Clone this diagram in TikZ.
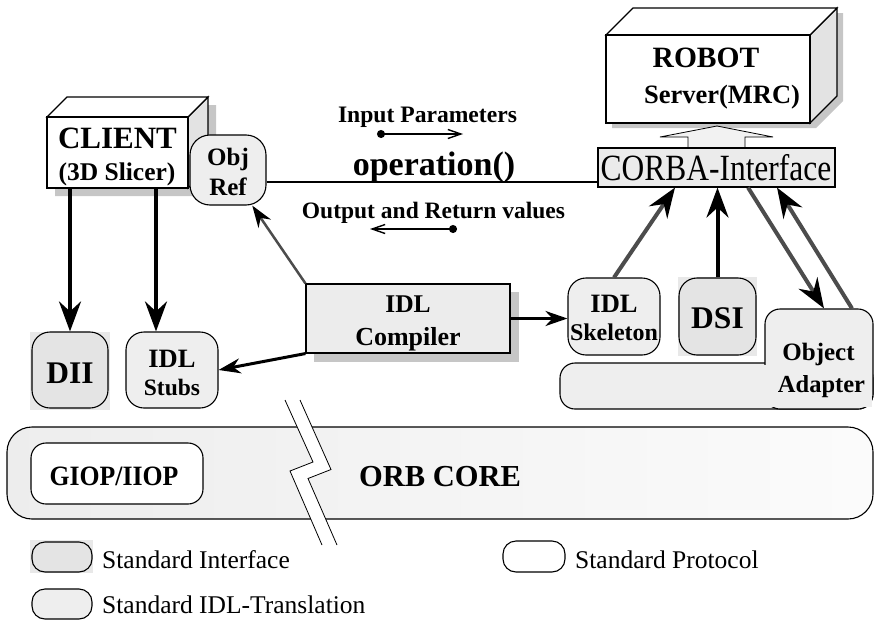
\documentclass[tikz,border=0pt]{standalone}
\usepackage{fontspec}
\setmainfont{Liberation Serif}
\usetikzlibrary{arrows.meta,calc}
\newcommand\fsz[1]{\fontsize{#1pt}{#1pt}\selectfont}
\begin{document}
\begin{tikzpicture}[x=1pt,y=-1pt,
  tb/.style={inner sep=0pt,anchor=base,font=\bfseries\fsz{#1}},
  tr/.style={inner sep=0pt,anchor=base,font=\fsz{#1}},
  bline/.style={draw=black,line width=1.1pt},
  rbox/.style={bline,rounded corners=#1,inner sep=0pt},
  sqbox/.style={bline,inner sep=0pt},
  lightf/.style={fill=gray!13},
  stdf/.style={fill=gray!21},
  bgf/.style={fill=gray!18},
  shad/.style={fill=gray!45},
  bigtip/.style={-{Stealth[length=30pt,width=22pt,inset=10pt,color=black]}},
  midtip/.style={-{Stealth[length=22pt,width=15pt,inset=7pt,color=black]}},
  smalltip/.style={{Circle[length=8pt]}-{Straight Barb[length=13pt,width=9pt]}},
]
\useasboundingbox (0,0) rectangle (875,621);

% ROBOT server box
\fill[shad] (612,128) -- (612,40) -- (639,13) -- (843,13) -- (843,101) -- (816,128) -- cycle;
\filldraw[bline,fill=gray!22] (810,35) -- (837,8) -- (837,96) -- (810,123) -- cycle;
\filldraw[bline,fill=white] (606,35) -- (633,8) -- (837,8) -- (810,35) -- cycle;
\node[sqbox,fill=white,minimum width=204pt,minimum height=88pt] (robot) at (708,79) {};
\node[tb=29.5] (robot1) at (706,67) {ROBOT};
\node[tb=26.5] (robot2) at (722,103) {Server(MRC)};

% hollow arrow CORBA -> ROBOT
\filldraw[bline,line width=0.8pt,fill=gray!10] (688,148) -- (688,137) -- (660,137) -- (717,126) -- (773,137) -- (745,137) -- (745,148);

% CORBA interface
\node[sqbox,fill=gray!16,minimum width=237pt,minimum height=39pt] (corba) at (716.5,167.5) {};
\node[inner sep=0pt,anchor=base] (corbat) at (716,180) {\scalebox{0.85}[1]{\fsz{37}CORBA-Interface}};

% CLIENT box
\fill[shad] (55,196) -- (55,125) -- (75,105) -- (216,105) -- (216,176) -- (196,196) -- cycle;
\filldraw[bline,fill=gray!22] (188,117) -- (208,97) -- (208,168) -- (188,188) -- cycle;
\filldraw[bline,fill=white] (47,117) -- (67,97) -- (208,97) -- (188,117) -- cycle;
\node[sqbox,fill=white,minimum width=141pt,minimum height=71pt] (client) at (117.5,152.5) {};
\node[tb=31] (client1) at (117.5,148) {CLIENT};
\node[tb=25.5] (client2) at (117,180) {(3D Slicer)};

% Obj Ref
\node[rbox=20pt,lightf,minimum width=76pt,minimum height=70pt] (objref) at (228,170) {};
\node[tb=25] (objref1) at (228,165) {Obj};
\node[tb=25] (objref2) at (228,195) {Ref};

% operation line and labels
\draw[bline,line width=1.5pt] ([yshift=-12pt]objref.east) -- ([yshift=-12pt]objref.east -| corba.west);
\node[tb=23.6] (inp) at (427.5,122) {Input Parameters};
\node[tb=34] (op) at (434,175) {operation()};
\node[tb=23.5] (outp) at (433.5,218) {Output and Return values};
\coordinate (ip1) at (377,134);
\coordinate (ip2) at (463,134);
\draw[smalltip,line width=1.4pt] (ip1) -- (ip2);
\coordinate (ov1) at (457,229);
\coordinate (ov2) at (370,229);
\draw[smalltip,line width=1.4pt] (ov1) -- (ov2);

% IDL compiler
\fill[shad] (314,292) rectangle (519,362);
\node[sqbox,fill=gray!15,minimum width=204pt,minimum height=69pt] (idlc) at (408,318.5) {};
\node[tb=25.5] (idlc1) at (408,312) {IDL};
\node[tb=26] (idlc2) at (408,345) {Compiler};

% DII
\fill[bgf] (30,332) rectangle (110,410);
\node[rbox=18pt,stdf,minimum width=76pt,minimum height=76pt] (dii) at (70,370) {};
\node[tb=31.5] (dii1) at (70,383) {DII};

% IDL stubs
\node[rbox=18pt,lightf,minimum width=92pt,minimum height=76pt] (stubs) at (172,370) {};
\node[tb=26.5] (stubs1) at (172,367) {IDL};
\node[tb=23.5] (stubs2) at (172,395) {Stubs};

% IDL skeleton
\node[rbox=18pt,lightf,minimum width=92pt,minimum height=77pt] (skel) at (614,316.5) {};
\node[tb=26.5] (skel1) at (614,312) {IDL};
\node[tb=24] (skel2) at (614,340) {Skeleton};

% DSI
\fill[bgf] (678,277) rectangle (757,356);
\node[rbox=18pt,stdf,minimum width=77pt,minimum height=77pt] (dsi) at (717.5,316.5) {};
\node[tb=31.5] (dsi1) at (717.5,328) {DSI};

% Object adapter
\node[rbox=15pt,lightf,minimum width=313pt,minimum height=46pt] (oabar) at (716.5,386) {};
\node[rbox=15pt,lightf,minimum width=108pt,minimum height=100pt] (oa) at (819,359) {};
\fill[gray!13] (760,364.8) rectangle (871.5,407.2);
\node[tb=25] (oa1) at (818.5,360) {Object};
\node[tb=24.5] (oa2) at (821.5,392) {Adapter};

% ORB core
\node[rbox=25pt,left color=gray!14,right color=gray!3,minimum width=866pt,minimum height=92pt] (orb) at (440,473) {};
\node[rbox=15pt,fill=white,minimum width=172pt,minimum height=61pt] (giop) at (117,473.5) {};
\node[inner sep=0pt,anchor=base] (giop1) at (114,485) {\scalebox{0.92}[1]{\bfseries\fsz{28}GIOP/IIOP}};
\node[tb=30.5] (orb1) at (440,486) {ORB CORE};

% break symbol
\fill[white] (285,400) -- (313,462) -- (290,471) -- (322,545) -- (337,545) -- (308,478.5) -- (331,469.5) -- (300,400) -- cycle;
\draw[line width=0.8pt] (285,400) -- (313,462) -- (290,471) -- (322,545);
\draw[line width=0.8pt] (300,400) -- (331,469.5) -- (308,478.5) -- (337,545);

% legend
\fill[bgf] (30,540) rectangle (93,573);
\node[rbox=13pt,stdf,minimum width=60pt,minimum height=30pt] (lg1) at (62,557) {};
\node[tr=25.5,anchor=base west] (lg1t) at (102,568) {Standard Interface};
\node[rbox=13pt,lightf,minimum width=60pt,minimum height=30pt] (lg2) at (62,604) {};
\node[tr=25.5,anchor=base west] (lg2t) at (102,613) {Standard IDL-Translation};
\node[rbox=13pt,fill=white,minimum width=62pt,minimum height=31pt] (lg3) at (534,556.5) {};
\node[tr=25.5,anchor=base west] (lg3t) at (575,568) {Standard Protocol};

% connectors
\coordinate (sa) at ([xshift=-16pt]stubs.north);
\draw[bigtip,line width=4pt] (dii.north |- client.south) -- (dii.north);
\draw[bigtip,line width=4pt] (sa |- client.south) -- (sa);
\draw[midtip,line width=2.5pt,draw=black!70] (idlc.north west) -- (objref);
\draw[midtip,line width=3pt] (idlc.south west) -- (stubs.east);
\draw[midtip,line width=3pt] (idlc.east) -- (idlc.east -| skel.west);
\coordinate (cs1) at ([xshift=-41.5pt]corba.south);
\draw[bigtip,line width=4pt,draw=black!70] (skel.north) -- (cs1);
\draw[bigtip,line width=4pt] (dsi.north) -- (dsi.north |- corba.south);
\coordinate (cs3) at ([xshift=31.5pt]corba.south);
\coordinate (oat1) at ([xshift=5pt]oa.north);
\draw[bigtip,line width=4pt,draw=black!70] (cs3) -- (oat1);
\coordinate (oat2) at ([xshift=33pt]oa.north);
\coordinate (cs4) at ([xshift=60.5pt]corba.south);
\draw[bigtip,line width=4pt,draw=black!70] (oat2) -- (cs4);
\end{tikzpicture}
\end{document}
